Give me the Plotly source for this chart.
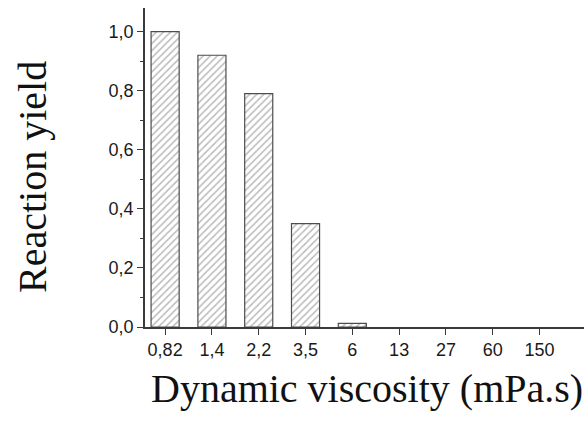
import plotly.graph_objects as go

# Dynamic viscosity categories (mPa.s) and measured reaction yield
viscosity = ["0,82", "1,4", "2,2", "3,5", "6", "13", "27", "60", "150"]
yield_values = [1.00, 0.92, 0.79, 0.35, 0.012, 0.0, 0.0, 0.0, 0.0]

y_tick_vals = [0.0, 0.2, 0.4, 0.6, 0.8, 1.0]
y_tick_text = ["0,0", "0,2", "0,4", "0,6", "0,8", "1,0"]

W, H = 584, 427
AXIS = "#3a3a3a"

# zero yields produce no visible bar
bar_heights = [v if v > 0 else None for v in yield_values]

fig = go.Figure(
    go.Bar(
        x=list(range(len(viscosity))),
        y=bar_heights,
        width=0.6,
        marker=dict(
            color="white",
            line=dict(color="#4d4d4d", width=1.2),
            pattern=dict(shape="/", fgcolor="#777777", bgcolor="white",
                         size=5, solidity=0.3),
        ),
    )
)

fig.update_layout(
    width=W, height=H,
    margin=dict(l=145, r=0, t=8, b=100),
    paper_bgcolor="white", plot_bgcolor="white",
    showlegend=False,
    font=dict(family="Liberation Sans, Arial, sans-serif", size=18, color="#1a1a1a"),
)

fig.update_xaxes(
    range=[-0.43, 8.95],
    tickmode="array",
    tickvals=list(range(len(viscosity))),
    ticktext=viscosity,
    ticks="outside", ticklen=6, tickwidth=1.3, tickcolor=AXIS,
    showline=True, linecolor=AXIS, linewidth=1.5,
    showgrid=False, zeroline=False,
    tickfont=dict(size=18, color="#1a1a1a"),
)

fig.update_yaxes(
    range=[0, 1.08],
    tickmode="array",
    tickvals=y_tick_vals,
    ticktext=y_tick_text,
    ticks="outside", ticklen=6, tickwidth=1.3, tickcolor=AXIS,
    minor=dict(tickvals=[0.1, 0.3, 0.5, 0.7, 0.9], ticks="outside",
               ticklen=3, tickwidth=1.2, tickcolor=AXIS),
    showline=True, linecolor=AXIS, linewidth=1.5,
    showgrid=False, zeroline=False,
    tickfont=dict(size=18, color="#1a1a1a"),
)

title_font = dict(family="Liberation Serif, Times New Roman, serif", size=40, color="#111")
fig.add_annotation(
    text="Dynamic viscosity (mPa.s)", xref="paper", yref="paper",
    x=(367 - 145) / (W - 145), y=-(388 - 327) / 319,
    xanchor="center", yanchor="middle", showarrow=False, font=title_font,
)
fig.add_annotation(
    text="Reaction yield", xref="paper", yref="paper",
    x=-(145 - 32) / (W - 145), y=(327 - 177) / 319,
    xanchor="center", yanchor="middle", textangle=-90, showarrow=False,
    font=title_font,
)

fig.write_html("out.html")
